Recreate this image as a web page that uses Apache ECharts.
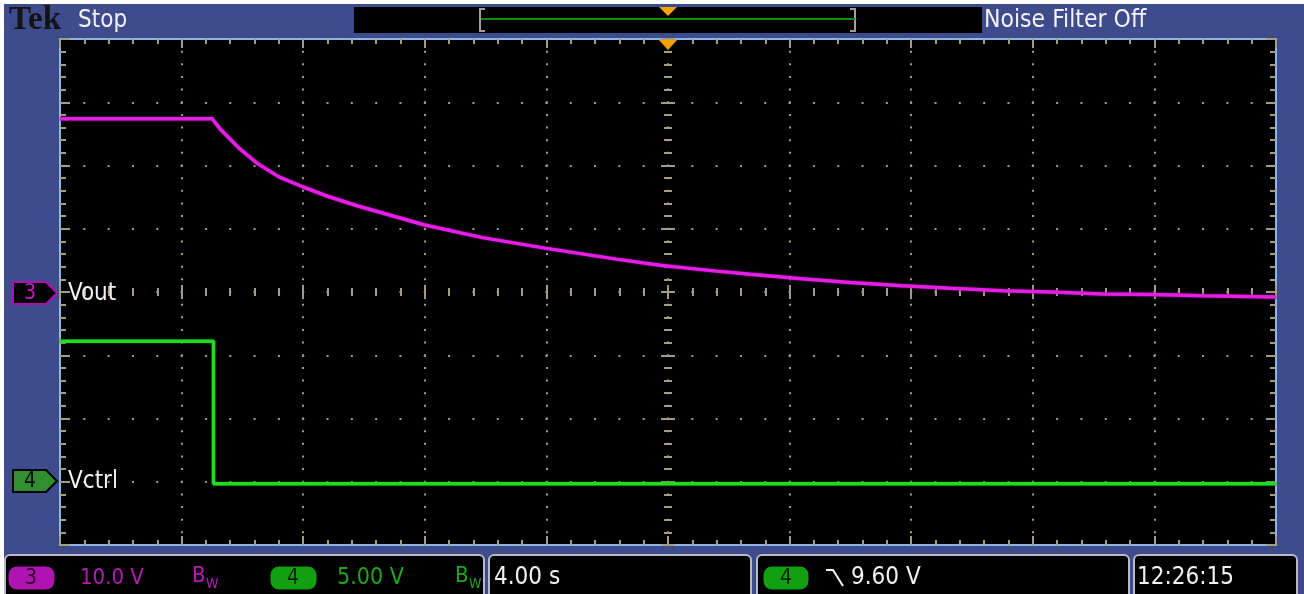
<!DOCTYPE html>
<html>
<head>
<meta charset="utf-8">
<script src="https://cdn.jsdelivr.net/npm/echarts@6/dist/echarts.min.js"></script>
<style>
  html, body { margin: 0; padding: 0; background: #3e4b8d; }
  #main { width: 1304px; height: 594px; }
</style>
</head>
<body>
<div id="main"></div>
<script>
// ch3 (Vout) trace, seconds / volts
const voutTime = [-20, -15.0, -14.7, -14.1, -13.5, -12.8, -12.0, -11.3, -10.2, -8.0, -6.1, -4.0, -1.7, -0.2, 1.6, 2.7, 4.4, 6.0, 7.7, 9.3, 11.0, 12.6, 14.3, 15.9, 17.6, 20]
const voutVolts = [27.4, 27.4, 25.6, 22.7, 20.3, 18.2, 16.6, 15.3, 13.6, 10.6, 8.6, 6.9, 5.2, 4.2, 3.3, 2.8, 2.1, 1.5, 1.0, 0.6, 0.2, 0.0, -0.3, -0.4, -0.6, -0.8]
// ch4 (Vctrl) trace
const vctrlTime = [-20, -14.95, -14.95, 20]
const vctrlVolts = [11.1, 11.1, -0.15, -0.15]

// scope settings
const timeRange = [-20, 20] // 4.00 s/div, 10 div
const timeDiv = 4
const voutRange = [-40, 40] // 10.0 V/div
const voutDiv = 10
const vctrlRange = [-5, 35] // 5.00 V/div, ground 3 div below centre
const vctrlDiv = 5

const tickColor = '#a29e80'
const font = '"Liberation Sans Narrow", "DejaVu Sans Condensed", sans-serif'

var myChart = echarts.init(document.getElementById('main'))

function tickAxis(extra, len, minorLen, inside) {
  return Object.assign(
    {
      type: 'value',
      axisLine: { show: false, onZero: false },
      axisLabel: { show: false },
      splitLine: { show: false },
      axisTick: { show: true, inside: inside, length: len, lineStyle: { color: tickColor, width: 2 } },
      minorTick: { show: true, splitNumber: 5, length: minorLen, lineStyle: { color: tickColor, width: 2 } },
    },
    extra
  )
}

function txt(text, x, y, size, color, extra) {
  return {
    type: 'text',
    z: 100,
    style: Object.assign(
      {
        text: text,
        x: x,
        y: y,
        fill: color,
        fontSize: size,
        fontFamily: font,
        verticalAlign: 'middle',
      },
      extra || {}
    ),
  }
}

function box(x, w) {
  return {
    type: 'rect',
    z: 50,
    shape: { x: x, y: 555, width: w, height: 45, r: 5 },
    style: { fill: '#000', stroke: '#b9b9c8', lineWidth: 2 },
  }
}

function pill(x, w, fill) {
  return {
    type: 'rect',
    z: 60,
    shape: { x: x, y: 566, width: w, height: 24, r: 9 },
    style: { fill: fill, stroke: '#000', lineWidth: 1 },
  }
}

var option = {
  backgroundColor: '#3e4b8d',
  animation: false,
  grid: {
    left: 60,
    top: 39,
    width: 1216,
    height: 506,
    show: true,
    backgroundColor: '#000',
    borderColor: '#8fb6e3',
    borderWidth: 2,
  },
  xAxis: [
    tickAxis(
      {
        position: 'bottom',
        min: timeRange[0],
        max: timeRange[1],
        interval: timeDiv,
        splitLine: {
          show: true,
          showMinLine: false,
          showMaxLine: false,
          lineStyle: { color: tickColor, width: 2, type: [2, 10.65], dashOffset: 1 },
        },
      },
      9, 5, true
    ),
    tickAxis({ position: 'top', min: timeRange[0], max: timeRange[1], interval: timeDiv }, 9, 5, true),
    // centre horizontal line
    tickAxis({ position: 'bottom', offset: -253, min: timeRange[0], max: timeRange[1], interval: timeDiv }, 7, 4, true),
    tickAxis({ position: 'bottom', offset: -253, min: timeRange[0], max: timeRange[1], interval: timeDiv }, 7, 4, false),
  ],
  yAxis: [
    tickAxis(
      {
        position: 'left',
        min: voutRange[0],
        max: voutRange[1],
        interval: voutDiv,
        splitLine: {
          show: true,
          showMinLine: false,
          showMaxLine: false,
          lineStyle: { color: tickColor, width: 2, type: [2, 22.32], dashOffset: 1 },
        },
      },
      10, 6, true
    ),
    tickAxis({ position: 'right', min: vctrlRange[0], max: vctrlRange[1], interval: vctrlDiv }, 10, 6, true),
    // centre vertical line
    tickAxis({ position: 'left', offset: -608, min: voutRange[0], max: voutRange[1], interval: voutDiv }, 7, 4, true),
    tickAxis({ position: 'left', offset: -608, min: voutRange[0], max: voutRange[1], interval: voutDiv }, 7, 4, false),
  ],
  series: [
    {
      name: 'Vout',
      type: 'line',
      xAxisIndex: 0,
      yAxisIndex: 0,
      showSymbol: false,
      data: voutTime.map((t, i) => [t, voutVolts[i]]),
      lineStyle: { color: '#e51de5', width: 3.5, shadowColor: '#900090', shadowBlur: 2 },
      z: 10,
    },
    {
      name: 'Vctrl',
      type: 'line',
      xAxisIndex: 0,
      yAxisIndex: 1,
      showSymbol: false,
      data: vctrlTime.map((t, i) => [t, vctrlVolts[i]]),
      lineStyle: { color: '#22dc22', width: 3.5, shadowColor: '#0a700a', shadowBlur: 2 },
      z: 11,
    },
  ],
  graphic: [
    // white edge of the screenshot
    { type: 'rect', z: 100, shape: { x: 0, y: 0, width: 1304, height: 4 }, style: { fill: '#fff' } },
    { type: 'rect', z: 100, shape: { x: 0, y: 0, width: 4, height: 594 }, style: { fill: '#fff' } },
    // header
    txt('Tek', 9, 20, 33, '#141414', { fontFamily: '"Liberation Serif", serif', fontWeight: 'bold' }),
    txt('Stop', 78, 21, 24, '#f2f2f2'),
    { type: 'rect', z: 50, shape: { x: 354, y: 7, width: 628, height: 26 }, style: { fill: '#000' } },
    { type: 'polyline', z: 60, shape: { points: [[485, 9], [480, 9], [480, 31], [485, 31]] }, style: { stroke: '#a89a98', lineWidth: 2, fill: null } },
    { type: 'polyline', z: 60, shape: { points: [[850, 9], [855, 9], [855, 31], [850, 31]] }, style: { stroke: '#a89a98', lineWidth: 2, fill: null } },
    { type: 'line', z: 60, shape: { x1: 481, y1: 19, x2: 855, y2: 19 }, style: { stroke: '#109010', lineWidth: 2 } },
    { type: 'polygon', z: 70, shape: { points: [[659, 7], [677, 7], [668, 16]] }, style: { fill: '#f5a200' } },
    txt('Noise Filter Off', 984, 21, 24.5, '#f2f2f2'),
    // trigger position marker
    { type: 'polygon', z: 70, shape: { points: [[659, 40], [677, 40], [668, 50]] }, style: { fill: '#f5a200' } },
    // channel markers
    {
      type: 'polygon',
      z: 70,
      shape: { points: [[13, 282], [46, 282], [57, 293], [46, 304], [13, 304]] },
      style: { fill: '#000', stroke: '#b010b0', lineWidth: 2 },
    },
    txt('3', 30, 294, 21, '#c21cc2', { align: 'center' }),
    txt('Vout', 68, 294, 24, '#f2f2f2'),
    {
      type: 'polygon',
      z: 70,
      shape: { points: [[13, 470], [46, 470], [57, 481], [46, 492], [13, 492]] },
      style: { fill: '#2f8f2f', stroke: '#000', lineWidth: 2 },
    },
    txt('4', 30, 482, 21, '#0a0a0a', { align: 'center' }),
    txt('Vctrl', 68, 482, 24, '#f2f2f2'),
    // bottom readouts
    box(5, 479),
    box(489, 262),
    box(757, 372),
    box(1134, 163),
    pill(8, 47, '#b014b0'),
    txt('3', 31, 579, 21, '#2a002a', { align: 'center' }),
    txt('10.0 V', 80, 578, 22, '#b81ab8'),
    txt('B', 192, 576, 22, '#b81ab8'),
    txt('W', 206, 584, 14, '#b81ab8'),
    pill(270, 47, '#10a010'),
    txt('4', 293, 579, 21, '#062006', { align: 'center' }),
    txt('5.00 V', 337, 578, 23, '#1ea81e'),
    txt('B', 455, 576, 22, '#1ea81e'),
    txt('W', 469, 584, 14, '#1ea81e'),
    txt('4.00 s', 494, 578, 24, '#f2f2f2'),
    pill(763, 46, '#10a010'),
    txt('4', 786, 579, 21, '#062006', { align: 'center' }),
    {
      type: 'polyline',
      z: 70,
      shape: { points: [[826, 570], [833, 570], [843, 586]] },
      style: { stroke: '#f2f2f2', lineWidth: 2, fill: null },
    },
    txt('9.60 V', 851, 578, 24, '#f2f2f2'),
    txt('12:26:15', 1137, 578, 24, '#f2f2f2'),
  ],
}

option && myChart.setOption(option)
</script>
</body>
</html>
